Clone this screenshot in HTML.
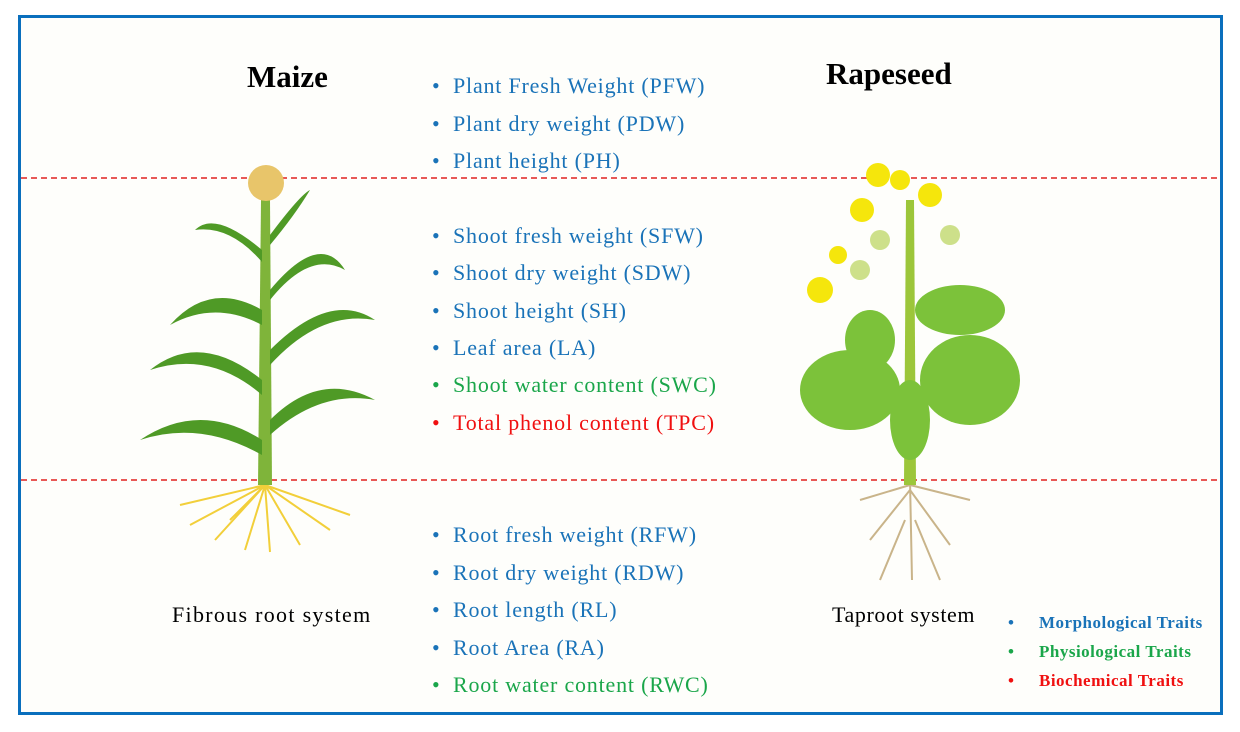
<!DOCTYPE html>
<html><head><meta charset="utf-8"><style>
body{margin:0;background:#fff;width:1240px;height:732px;position:relative;overflow:hidden;font-family:"Liberation Serif",serif}
#frame{position:absolute;left:18px;top:15px;width:1199px;height:694px;border:3px solid #0a6fbd;background:#fefefb}
.t{position:absolute;font-size:22px;letter-spacing:0.8px;white-space:nowrap}
.t span{position:absolute;left:0}
.t em{font-style:normal;position:absolute;left:21px}
.b{color:#1a73b8}.g{color:#1aa64a}.r{color:#f01010}
.h{position:absolute;font-weight:bold;font-size:31px}
.l{position:absolute;font-weight:bold;font-size:17px;letter-spacing:0.5px;white-space:nowrap}
.l em{font-style:normal;position:absolute;left:31px}
</style></head><body>
<div id="frame"></div>
<svg width="1240" height="732" style="position:absolute;left:0;top:0">
<line x1="21" y1="178" x2="1217" y2="178" stroke="#e02020" stroke-width="1.5" stroke-dasharray="6,4"/>
<line x1="21" y1="480" x2="1217" y2="480" stroke="#e02020" stroke-width="1.5" stroke-dasharray="6,4"/>
<g fill="none" stroke="#f2cf3a" stroke-width="2">
<path d="M265 485 L190 525 M265 485 L215 540 M265 485 L245 550 M265 485 L270 552 M265 485 L300 545 M265 485 L330 530 M265 485 L350 515 M265 485 L180 505 M265 485 L230 520"/>
</g>
<path d="M261 200 L270 200 L272 485 L258 485 Z" fill="#7fb43a"/>
<circle cx="266" cy="183" r="18" fill="#e8c56a"/>
<g fill="#4f9a26">
<path d="M262 440 Q200 400 140 440 Q200 420 262 455Z"/>
<path d="M270 420 Q320 370 375 400 Q320 390 270 435Z"/>
<path d="M262 380 Q200 330 150 370 Q210 350 262 395Z"/>
<path d="M270 350 Q330 290 375 320 Q320 310 270 365Z"/>
<path d="M262 310 Q210 280 170 325 Q215 300 262 325Z"/>
<path d="M270 290 Q320 230 345 270 Q310 250 270 300Z"/>
<path d="M262 250 Q215 210 195 230 Q230 225 262 262Z"/>
<path d="M270 235 Q300 195 310 190 Q295 215 270 245Z"/>
</g>
<g fill="none" stroke="#c9b48a" stroke-width="2">
<path d="M910 480 L912 580 M910 490 L870 540 M910 490 L950 545 M910 485 L860 500 M910 485 L970 500 M905 520 L880 580 M915 520 L940 580"/>
</g>
<path d="M906 200 L914 200 L916 485 L904 485 Z" fill="#9cc63a"/>
<g fill="#7cc23a">
<ellipse cx="850" cy="390" rx="50" ry="40"/>
<ellipse cx="970" cy="380" rx="50" ry="45"/>
<ellipse cx="960" cy="310" rx="45" ry="25"/>
<ellipse cx="870" cy="340" rx="25" ry="30"/>
<ellipse cx="910" cy="420" rx="20" ry="40"/>
</g>
<g fill="#f5e60c">
<circle cx="878" cy="175" r="12"/><circle cx="862" cy="210" r="12"/><circle cx="930" cy="195" r="12"/>
<circle cx="820" cy="290" r="13"/><circle cx="838" cy="255" r="9"/><circle cx="900" cy="180" r="10"/>
</g>
<g fill="#cde08a"><circle cx="860" cy="270" r="10"/><circle cx="950" cy="235" r="10"/><circle cx="880" cy="240" r="10"/></g>
</svg>
<div class="h" style="left:247px;top:59px">Maize</div>
<div class="h" style="left:826px;top:56px">Rapeseed</div>
<div class="t" style="left:172px;top:602px;letter-spacing:1.3px">Fibrous root system</div>
<div class="t" style="left:832px;top:602px;letter-spacing:0.6px">Taproot system</div>
<div class="t b" style="left:432px;top:73px"><span>•</span><em>Plant Fresh Weight (PFW)</em></div>
<div class="t b" style="left:432px;top:111px"><span>•</span><em>Plant dry weight (PDW)</em></div>
<div class="t b" style="left:432px;top:148px"><span>•</span><em>Plant height (PH)</em></div>
<div class="t b" style="left:432px;top:223px"><span>•</span><em>Shoot fresh weight (SFW)</em></div>
<div class="t b" style="left:432px;top:260px"><span>•</span><em>Shoot dry weight (SDW)</em></div>
<div class="t b" style="left:432px;top:298px"><span>•</span><em>Shoot height (SH)</em></div>
<div class="t b" style="left:432px;top:335px"><span>•</span><em>Leaf area (LA)</em></div>
<div class="t g" style="left:432px;top:372px"><span>•</span><em>Shoot water content (SWC)</em></div>
<div class="t r" style="left:432px;top:410px"><span>•</span><em>Total phenol content (TPC)</em></div>
<div class="t b" style="left:432px;top:522px"><span>•</span><em>Root fresh weight (RFW)</em></div>
<div class="t b" style="left:432px;top:560px"><span>•</span><em>Root dry weight (RDW)</em></div>
<div class="t b" style="left:432px;top:597px"><span>•</span><em>Root length (RL)</em></div>
<div class="t b" style="left:432px;top:635px"><span>•</span><em>Root Area (RA)</em></div>
<div class="t g" style="left:432px;top:672px"><span>•</span><em>Root water content (RWC)</em></div>
<div class="l b" style="left:1008px;top:613px">•<em>Morphological Traits</em></div>
<div class="l g" style="left:1008px;top:642px">•<em>Physiological Traits</em></div>
<div class="l r" style="left:1008px;top:671px">•<em>Biochemical Traits</em></div>
</body></html>
